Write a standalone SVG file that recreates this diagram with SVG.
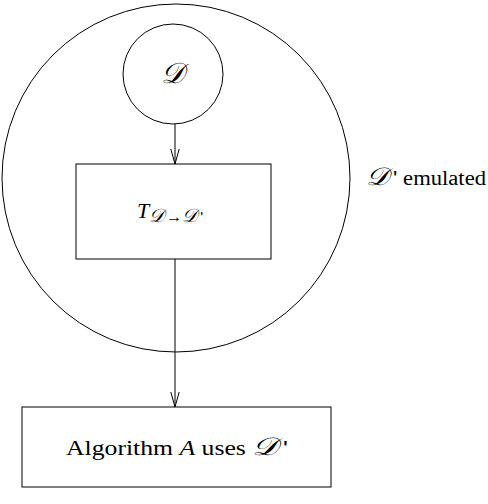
<svg xmlns="http://www.w3.org/2000/svg" width="488" height="504" viewBox="0 0 488 504">
<defs>
<style>
.shape{fill:none;stroke:#000;stroke-width:1}
.edge{fill:none;stroke:#000;stroke-width:1}
text{font-family:"Liberation Serif","DejaVu Serif",serif;font-size:20px;fill:#000}
.it{font-style:italic}
.cal{font-family:"DejaVu Serif","Liberation Serif",serif;font-style:italic}
.pr{font-family:"Liberation Sans","DejaVu Sans",sans-serif;font-style:normal}
</style>
<marker id="arr" markerWidth="16" markerHeight="12" refX="15" refY="6" orient="auto" markerUnits="userSpaceOnUse">
<path d="M0,1.8 L15,6 L0,10.2" fill="none" stroke="#000" stroke-width="1"/>
</marker>
</defs>
<rect width="488" height="504" fill="#fff"/>
<g id="emulated">
<circle class="shape" cx="176" cy="178" r="174"/>
<text x="366" y="185" textLength="120" lengthAdjust="spacingAndGlyphs"><tspan class="cal" style="font-size:25px">𝒟</tspan><tspan class="pr" dx="4" style="font-size:20px">'</tspan><tspan> emulated</tspan></text>
</g>
<g id="D">
<circle class="shape" cx="173" cy="74" r="50"/>
<text x="172" y="83" text-anchor="middle" class="cal" style="font-size:29px">𝒟</text>
</g>
<g id="T">
<rect class="shape" x="76" y="164" width="195" height="95"/>
<text x="137" y="218" style="font-size:22px"><tspan class="it">T</tspan><tspan style="font-size:19px" dy="4" class="cal">𝒟</tspan><tspan style="font-size:16px" dx="2">→</tspan><tspan style="font-size:19px" class="cal">𝒟</tspan><tspan class="pr" dx="3" style="font-size:15px">'</tspan></text>
</g>
<g id="Alg">
<rect class="shape" x="22" y="407" width="309" height="80"/>
<text x="66" y="455" textLength="222" lengthAdjust="spacingAndGlyphs">Algorithm <tspan class="it">A</tspan> uses <tspan class="cal" style="font-size:25px">𝒟</tspan><tspan class="pr" dx="4" style="font-size:20px">'</tspan></text>
</g>
<g id="connectors">
<line class="edge" x1="175" y1="124" x2="175" y2="164" marker-end="url(#arr)"/>
<line class="edge" x1="175" y1="259" x2="175" y2="407" marker-end="url(#arr)"/>
</g>
</svg>
